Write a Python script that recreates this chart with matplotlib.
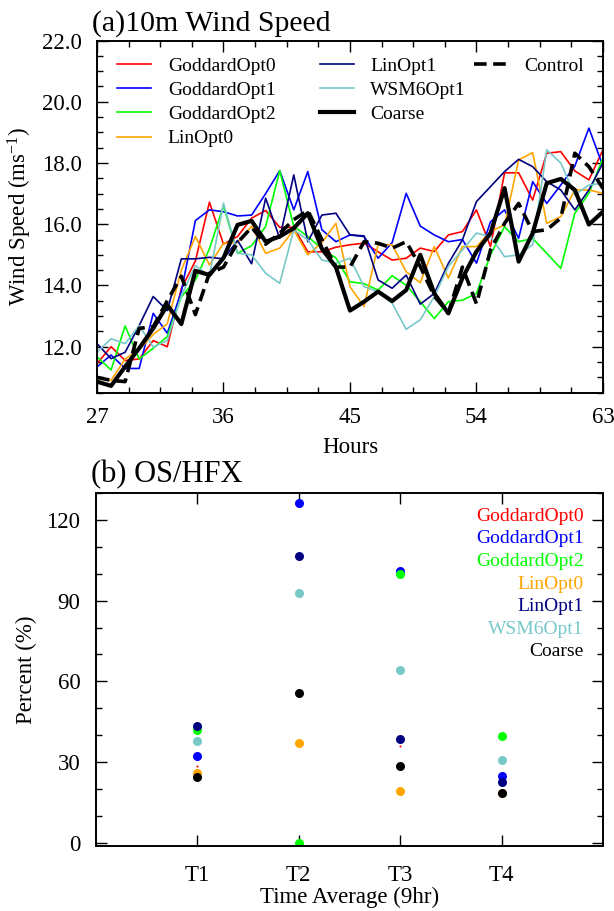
import numpy as np
import matplotlib
matplotlib.use("Agg")
import matplotlib.pyplot as plt
from matplotlib.ticker import MultipleLocator

plt.rcParams['font.family'] = ['Liberation Serif', 'DejaVu Serif']
plt.rcParams['mathtext.fontset'] = 'custom'
plt.rcParams['mathtext.rm'] = 'Liberation Serif'
plt.rcParams['mathtext.default'] = 'regular'

# ---- panel (a) data: 10m wind speed, hourly 27..63
hours = list(range(27, 64))

goddard0 = [11.45, 12.0, 11.55, 11.6, 12.2, 12.0, 13.9, 14.8, 16.72, 15.35, 15.6, 16.2, 16.45,
            15.9, 15.9, 15.1, 15.1, 15.25, 15.33, 15.38, 15.1, 14.83, 14.89, 15.22, 15.11,
            15.65, 15.76, 16.47, 15.27, 17.68, 17.68, 16.79, 18.32, 18.37, 17.74, 17.45, 18.43]
goddard1 = [11.34, 11.73, 11.29, 11.29, 13.09, 12.44, 13.8, 16.12, 16.47, 16.41, 16.27, 16.3, 17.0,
            17.75, 16.47, 17.72, 15.82, 15.43, 15.65, 15.6, 14.89, 15.4, 17.01, 15.94, 15.65,
            15.43, 15.5, 14.73, 16.08, 16.47, 15.54, 17.39, 16.68, 17.28, 17.9, 19.14, 17.9]
goddard2 = [11.67, 11.24, 12.68, 11.6, 11.95, 12.33, 13.63, 14.18, 15.2, 16.6, 15.05, 15.3, 15.93,
            17.75, 15.93, 15.6, 15.2, 14.9, 14.12, 14.06, 13.85, 14.32, 14.01, 13.47, 12.92,
            13.47, 13.52, 13.74, 15.0, 15.92, 15.43, 15.54, 15.05, 14.56, 16.36, 17.01, 18.16]
lin0 = [10.96, 10.9, 11.6, 11.9, 12.4, 12.75, 14.5, 15.6, 14.67, 15.38, 15.4, 15.93, 15.05,
        15.22, 15.82, 15.0, 15.4, 16.03, 13.96, 13.31, 15.33, 15.33, 14.45, 14.09, 15.27,
        14.24, 15.27, 15.27, 15.76, 15.98, 18.1, 18.34, 16.03, 16.25, 17.12, 17.12, 17.01]
lin1 = [12.1, 11.61, 11.82, 12.69, 13.64, 13.18, 14.87, 14.87, 14.92, 14.87, 15.47, 14.71, 16.85,
        15.54, 17.61, 15.43, 16.3, 16.36, 15.65, 15.62, 14.18, 13.91, 14.34, 13.39, 13.74,
        14.72, 15.49, 16.74, 17.23, 17.72, 18.12, 17.88, 17.39, 17.12, 16.47, 17.12, 18.0]
wsm6 = [11.82, 12.26, 12.1, 12.69, 11.99, 12.2, 13.67, 14.65, 14.32, 16.69, 15.05, 15.0, 14.4,
        14.07, 15.82, 15.49, 14.83, 14.73, 14.89, 13.96, 13.8, 13.42, 12.57, 12.88, 13.64,
        14.62, 15.16, 15.71, 15.6, 14.94, 15.0, 15.33, 18.43, 18.0, 16.96, 17.28, 17.34]
coarse = [10.86, 10.72, 11.35, 11.95, 12.6, 13.36, 12.74, 14.48, 14.34, 14.9, 15.98, 16.11, 15.43,
          15.6, 15.87, 16.36, 15.2, 14.6, 13.18, 13.47, 13.8, 13.49, 13.85, 15.0, 13.74,
          13.09, 14.24, 15.11, 15.71, 17.18, 14.78, 15.71, 17.34, 17.48, 17.12, 15.99, 16.41]
control = [11.0, 10.9, 10.86, 12.6, 12.65, 13.5, 14.3, 13.05, 14.4, 14.6, 15.4, 15.9, 15.35,
           15.7, 16.15, 16.45, 15.5, 14.6, 14.6, 15.43, 15.38, 15.22, 15.43, 14.62, 13.65,
           13.1, 14.6, 13.4, 15.16, 16.03, 16.68, 15.76, 15.82, 16.2, 18.32, 17.88, 17.17]

# ---- panel (b) data: OS/HFX percent per 9hr window
periods = ["T1", "T2", "T3", "T4"]
pct_goddard0 = [28.5, 37.0, 35.9, 18.8]
pct_goddard1 = [32.2, 126.2, 101.0, 25.1]
pct_goddard2 = [42.1, 0.0, 99.9, 39.6]
pct_lin0 = [26.0, 37.1, 19.3, 18.8]
pct_lin1 = [43.5, 106.6, 38.6, 22.6]
pct_wsm6 = [38.1, 92.7, 64.1, 30.7]
pct_coarse = [24.7, 55.9, 28.8, 18.6]

names = ["GoddardOpt0", "GoddardOpt1", "GoddardOpt2", "LinOpt0", "LinOpt1", "WSM6Opt1", "Coarse"]
colors = ["#ff0000", "#0000ff", "#00ff00", "#ffa500", "#000080", "#78c8c8", "#000000"]

fig = plt.figure(figsize=(6.14, 9.11), dpi=100)
ax1 = fig.add_axes([0.158, 0.569, 0.824, 0.3865])
ax2 = fig.add_axes([0.156, 0.0714, 0.826, 0.3878])

def style(ax):
    ax.tick_params(which='both', direction='in', top=True, right=True, labelsize=16.5, width=1)
    ax.tick_params(which='major', length=8)
    ax.tick_params(which='minor', length=4.5)
    ax.tick_params(axis='y', pad=11)
    ax.tick_params(axis='x', pad=10)
    for s in ax.spines.values():
        s.set_linewidth(1.4)

# panel a
series = [goddard0, goddard1, goddard2, lin0, lin1, wsm6]
handles = []
for vals, c, n in zip(series, colors[:6], names[:6]):
    l, = ax1.plot(hours, vals, color=c, lw=1.2, label=n)
    handles.append(l)
lc, = ax1.plot(hours, coarse, color='black', lw=3, label="Coarse")
lctl, = ax1.plot(hours, control, color='black', lw=2.6, ls=(0, (3.5, 1.8)), label="Control")

ax1.set_xlim(27, 63)
ax1.set_ylim(10.5, 22)
ax1.xaxis.set_major_locator(MultipleLocator(9))
ax1.xaxis.set_minor_locator(MultipleLocator(2.25))
ax1.yaxis.set_major_locator(MultipleLocator(2))
ax1.yaxis.set_minor_locator(MultipleLocator(0.5))
ax1.yaxis.set_major_formatter(lambda v, p: f"{v:.1f}")
style(ax1)
ax1.set_xlabel("Hours", fontsize=16.5)
ax1.set_ylabel("Wind Speed (ms$^{-1}$)", fontsize=16.5)
ax1.xaxis.set_label_coords(0.5, -0.126)
ax1.yaxis.set_label_coords(-0.125, 0.5)
ax1.text(-0.01, 1.01, "(a)10m Wind Speed", transform=ax1.transAxes, fontsize=21.5,
         ha='left', va='bottom')

leg_kw = dict(frameon=False, borderpad=0, borderaxespad=0, handlelength=1.75,
              handletextpad=0.85, labelspacing=0.34, fontsize=14, loc='upper left')
leg1 = ax1.legend(handles=handles[:4], bbox_to_anchor=(0.04, 0.953), **leg_kw)
ax1.add_artist(leg1)
leg2 = ax1.legend(handles=handles[4:] + [lc], bbox_to_anchor=(0.44, 0.953), **leg_kw)
ax1.add_artist(leg2)
ax1.legend(handles=[lctl], bbox_to_anchor=(0.745, 0.953), **leg_kw)

# panel b
xpos = np.arange(1, len(periods) + 1)
pct = [pct_goddard0, pct_goddard1, pct_goddard2, pct_lin0, pct_lin1, pct_wsm6, pct_coarse]
for vals, c, n in zip(pct, colors, names):
    ms = 1.5 if n == "GoddardOpt0" else 6.5
    ax2.plot(xpos, vals, 'o', color=c, ms=ms, mec='none')

ax2.set_xlim(0, 5)
ax2.set_ylim(-1, 130)
ax2.set_xticks(xpos)
ax2.set_xticklabels(periods)
ax2.yaxis.set_major_locator(MultipleLocator(30))
ax2.yaxis.set_minor_locator(MultipleLocator(10))
style(ax2)
ax2.tick_params(axis='x', pad=14)
ax2.set_xlabel("Time Average (9hr)", fontsize=16.5)
ax2.set_ylabel("Percent (%)", fontsize=16.5)
ax2.xaxis.set_label_coords(0.5, -0.116)
ax2.yaxis.set_label_coords(-0.116, 0.5)
ax2.text(-0.01, 1.01, "(b) OS/HFX", transform=ax2.transAxes, fontsize=22,
         ha='left', va='bottom')

for i, (n, c) in enumerate(zip(names, colors)):
    ax2.text(0.962, 0.933 - i * 0.0639, n, color=c, fontsize=14, ha='right', va='center',
             transform=ax2.transAxes)

fig.savefig("out.png", dpi=100)
